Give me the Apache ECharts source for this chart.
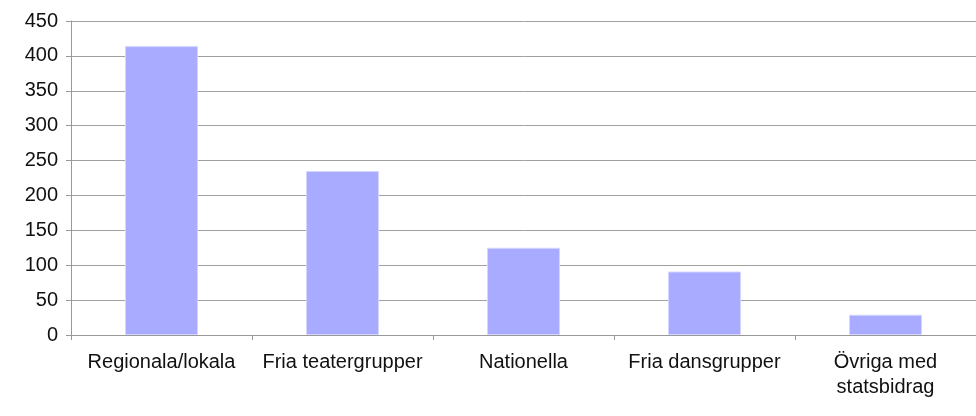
<!DOCTYPE html>
<html><head><meta charset="utf-8">
<script src="https://cdn.jsdelivr.net/npm/echarts@6/dist/echarts.min.js"></script>
<style>html,body{margin:0;padding:0;background:#fff}#c{width:976px;height:416px}</style>
</head><body><div id="c"></div>
<script>
const categories = ["Regionala/lokala", "Fria teatergrupper", "Nationella", "Fria dansgrupper", "Övriga med\nstatsbidrag"];
const values = [414, 235, 125, 91, 29];
const yTicks = { min: 0, max: 450, interval: 50 };

const chart = echarts.init(document.getElementById('c'), null, {renderer: 'canvas'});
chart.setOption({
  animation: false,
  grid: { left: 71, right: 0, top: 21, bottom: 81, containLabel: false },
  xAxis: {
    type: 'category', data: categories,
    axisLine: { lineStyle: { color: '#999', width: 1 } },
    axisTick: { show: true, alignWithLabel: false, length: 5, lineStyle: { color: '#999' } },
    axisLabel: { color: '#111', fontFamily: 'Arial', fontSize: 20, margin: 15, lineHeight: 25, interval: 0 }
  },
  yAxis: {
    type: 'value', min: yTicks.min, max: yTicks.max, interval: yTicks.interval,
    axisLine: { show: true, lineStyle: { color: '#999', width: 1 } },
    axisTick: { show: true, length: 5, lineStyle: { color: '#999' } },
    splitLine: { lineStyle: { color: '#a0a0a0', width: 1 } },
    axisLabel: { color: '#111', fontFamily: 'Arial', fontSize: 20, margin: 13 }
  },
  series: [{
    type: 'bar', data: values, barWidth: 73,
    itemStyle: { color: '#a8abff', borderColor: '#d4d6ff', borderWidth: 1 }
  }]
});
</script></body></html>
